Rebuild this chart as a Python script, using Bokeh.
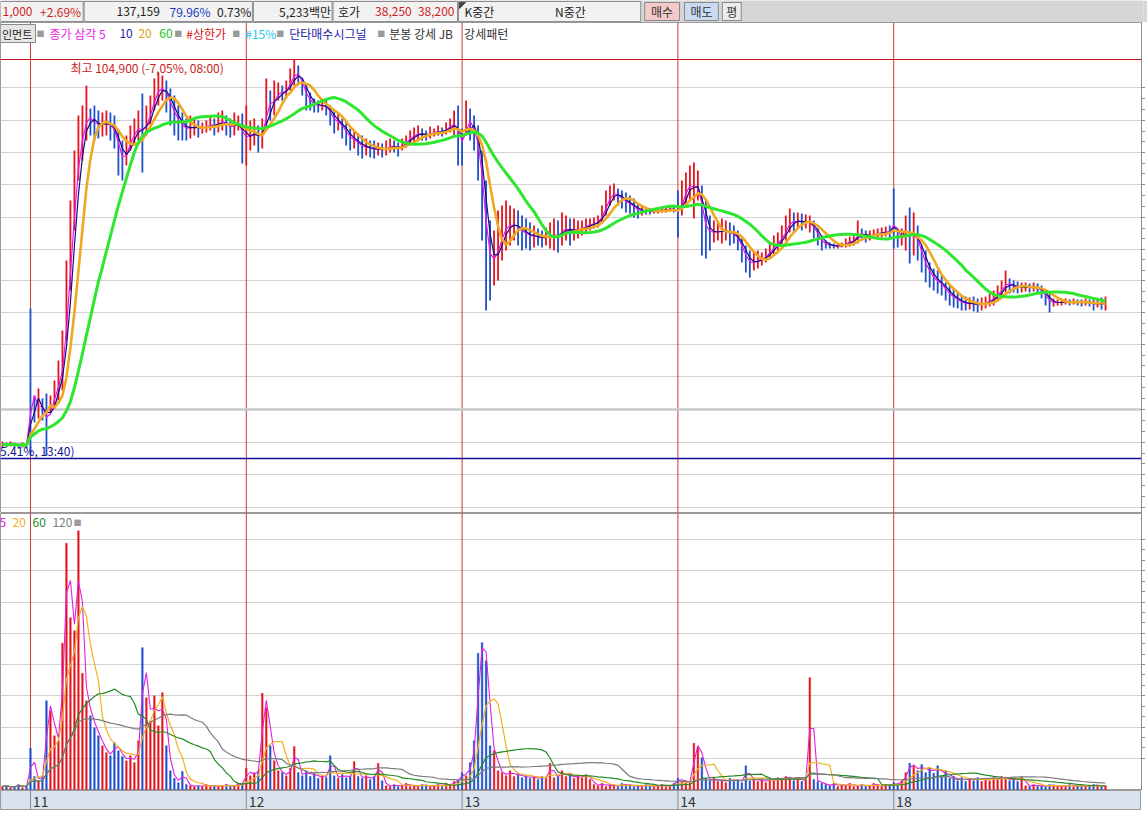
import numpy as np
import pandas as pd
from bokeh.plotting import figure
from bokeh.layouts import column
from bokeh.models import Range1d, Span, FixedTicker, Label, ColumnDataSource
from bokeh.core.properties import value
from bokeh.embed import file_html
from bokeh.resources import INLINE

FONT = "Noto Sans CJK KR"

# ------------------------------------------------------------------ data
# minute chart resampled: one sample ~ 3.3 original bars (price in thousand won)
day_labels = ["11", "12", "13", "14", "18"]
day_start = [7, 61, 115, 169, 223]          # sample index where each session opens

price_high = [
    66.7, 66.6, 66.7, 66.6, 66.5, 66.6, 66.5, 80.0, 71.3, 72.0,
    71.0, 71.5, 71.3, 72.8, 74.8, 77.8, 84.8, 90.8, 95.8, 99.3,
    100.3, 102.3, 100.0, 100.3, 99.8, 99.6, 99.8, 99.6, 99.3, 97.8,
    96.8, 97.3, 98.3, 99.0, 99.8, 101.5, 100.3, 101.3, 103.0, 103.6,
    103.3, 102.8, 102.0, 101.3, 100.3, 99.6, 99.0, 99.3, 99.1, 98.8,
    98.6, 98.8, 99.2, 99.0, 99.6, 99.8, 99.3, 99.0, 99.6, 99.3,
    99.5, 100.3, 98.8, 99.0, 98.3, 99.0, 103.0, 101.8, 102.8, 102.6,
    102.3, 102.8, 104.0, 104.9, 104.3, 103.0, 102.3, 101.6, 101.0, 100.8,
    101.0, 100.8, 100.3, 99.8, 99.6, 99.0, 98.6, 98.0, 97.8, 97.5,
    97.3, 97.0, 96.8, 96.8, 96.6, 96.5, 96.8, 97.0, 96.8, 96.6,
    97.0, 97.3, 97.8, 98.1, 98.3, 98.0, 97.8, 98.2, 98.0, 98.3,
    98.1, 98.6, 99.0, 99.8, 100.3, 98.0, 100.8, 100.0, 99.3, 98.3,
    95.8, 92.8, 88.8, 87.8, 89.8, 90.3, 90.8, 90.3, 90.0, 89.8,
    89.3, 89.0, 88.6, 88.3, 88.0, 87.8, 88.1, 88.6, 89.0, 88.8,
    89.6, 89.3, 89.0, 89.0, 88.8, 88.8, 89.0, 89.0, 89.1, 89.3,
    90.3, 91.8, 92.3, 92.5, 92.0, 91.8, 91.6, 91.3, 91.0, 90.5,
    90.3, 90.0, 89.9, 90.0, 90.0, 90.1, 90.2, 90.2, 90.3, 91.8,
    92.8, 93.6, 94.3, 94.6, 93.8, 92.3, 90.8, 89.3, 88.8, 88.6,
    89.0, 88.8, 88.6, 88.3, 87.8, 87.0, 86.3, 85.8, 85.6, 85.8,
    85.6, 86.0, 86.6, 87.3, 87.6, 88.3, 89.3, 90.0, 89.6, 89.6,
    89.5, 89.4, 89.3, 88.8, 88.0, 87.3, 86.8, 86.6, 86.5, 86.5,
    86.6, 87.0, 87.2, 87.3, 88.8, 88.0, 87.8, 87.8, 87.9, 88.0,
    88.1, 88.2, 88.3, 92.0, 87.8, 88.0, 89.3, 90.1, 89.6, 88.3,
    86.3, 85.8, 84.6, 84.0, 83.8, 83.3, 82.6, 82.3, 82.0, 81.6,
    81.3, 81.2, 81.1, 81.2, 81.0, 81.1, 81.2, 81.5, 81.8, 82.3,
    82.8, 83.8, 83.0, 82.8, 82.7, 82.6, 82.6, 82.5, 82.6, 82.5,
    82.3, 81.8, 81.6, 81.0, 80.9, 81.0, 81.0, 80.9, 81.0, 80.9,
    80.9, 81.0, 80.9, 80.9, 81.0, 81.1, 81.2,
]
price_low = [
    66.1, 66.1, 66.2, 66.1, 66.0, 66.1, 66.0, 65.3, 68.6, 69.0,
    68.8, 65.3, 69.6, 70.0, 70.8, 71.8, 76.8, 81.8, 87.8, 92.8,
    94.8, 96.8, 97.3, 96.8, 97.0, 97.2, 97.3, 96.8, 96.0, 93.3,
    92.8, 94.3, 95.8, 96.3, 96.8, 93.6, 97.3, 98.3, 99.8, 100.3,
    100.8, 99.6, 98.3, 97.3, 96.8, 96.8, 96.8, 97.0, 97.3, 97.1,
    97.5, 97.6, 97.8, 97.3, 97.6, 97.8, 97.3, 97.1, 97.3, 97.8,
    94.5, 94.3, 95.8, 96.3, 95.6, 96.0, 98.3, 98.8, 99.3, 100.8,
    100.8, 101.0, 101.8, 102.3, 102.3, 101.3, 99.8, 99.8, 99.6, 99.6,
    99.8, 99.3, 98.3, 97.5, 97.8, 97.0, 96.3, 95.8, 96.0, 95.3,
    95.0, 95.3, 95.1, 95.0, 95.3, 95.1, 95.3, 95.6, 95.6, 95.2,
    95.8, 96.1, 96.5, 96.6, 96.8, 96.8, 96.8, 97.0, 97.2, 97.3,
    97.2, 97.4, 97.6, 97.3, 94.3, 94.3, 97.3, 96.8, 95.8, 92.8,
    86.8, 79.8, 80.8, 82.3, 82.8, 84.8, 85.8, 86.3, 86.8, 86.3,
    85.8, 86.0, 85.8, 86.1, 86.3, 86.1, 86.3, 86.0, 85.8, 85.6,
    86.3, 86.8, 86.3, 86.8, 87.0, 87.3, 87.6, 87.8, 88.0, 88.1,
    88.6, 89.3, 90.3, 90.8, 90.3, 90.0, 89.6, 89.5, 89.1, 89.0,
    89.3, 89.4, 89.4, 89.5, 89.5, 89.6, 89.6, 89.7, 89.6, 87.1,
    89.3, 90.3, 90.8, 89.0, 90.8, 85.3, 85.0, 85.8, 86.6, 86.8,
    86.5, 86.8, 86.3, 86.5, 85.8, 84.6, 83.6, 83.1, 83.8, 84.0,
    84.3, 84.6, 85.0, 85.3, 85.8, 86.0, 86.8, 87.6, 87.6, 88.0,
    87.8, 88.0, 87.6, 87.0, 86.3, 85.8, 86.0, 86.0, 86.0, 86.0,
    86.1, 86.1, 86.2, 86.3, 86.5, 86.8, 86.6, 86.8, 87.0, 87.1,
    87.1, 87.2, 87.0, 86.0, 86.1, 86.3, 85.8, 84.5, 85.3, 84.8,
    83.6, 82.6, 82.1, 81.8, 81.5, 81.3, 80.8, 80.3, 80.1, 80.0,
    79.8, 79.8, 79.9, 79.7, 79.6, 79.8, 80.0, 80.2, 80.3, 80.8,
    81.1, 81.6, 81.5, 81.6, 81.5, 81.6, 81.7, 81.6, 81.7, 81.5,
    81.0, 80.3, 79.6, 80.2, 80.3, 80.3, 80.4, 80.3, 80.4, 80.3,
    80.2, 80.3, 80.2, 79.8, 80.1, 79.9, 79.8,
]
# volume, thousand shares
volume = [
    5, 6, 3, 5, 8, 3, 5, 66, 21, 14,
    22, 142, 126, 86, 78, 234, 394, 275, 254, 414,
    186, 142, 118, 99, 86, 70, 59, 54, 75, 62,
    53, 46, 54, 43, 78, 227, 147, 110, 150, 102,
    155, 70, 30, 18, 11, 29, 8, 6, 5, 6,
    5, 8, 5, 6, 5, 6, 8, 5, 6, 10,
    8, 34, 22, 27, 30, 154, 131, 70, 46, 30,
    27, 22, 34, 69, 27, 22, 30, 21, 26, 18,
    22, 19, 54, 22, 18, 24, 19, 22, 45, 21,
    18, 22, 16, 21, 42, 14, 6, 5, 8, 5,
    6, 10, 5, 6, 5, 8, 6, 5, 6, 8,
    5, 10, 6, 13, 16, 27, 22, 43, 78, 218,
    235, 206, 70, 62, 30, 27, 22, 30, 21, 26,
    19, 22, 18, 21, 16, 21, 18, 42, 19, 22,
    30, 21, 24, 18, 22, 19, 24, 16, 8, 6,
    10, 5, 8, 6, 5, 10, 6, 8, 5, 6,
    5, 8, 6, 5, 6, 8, 5, 6, 10, 18,
    13, 14, 11, 74, 67, 51, 18, 14, 19, 13,
    16, 11, 18, 13, 16, 11, 38, 14, 18, 13,
    16, 11, 18, 14, 19, 16, 21, 18, 14, 19,
    13, 16, 179, 16, 13, 10, 8, 6, 10, 5,
    8, 6, 10, 5, 6, 8, 5, 6, 10, 6,
    5, 8, 6, 11, 8, 14, 27, 42, 37, 30,
    40, 27, 35, 26, 38, 22, 30, 18, 21, 14,
    19, 13, 18, 14, 19, 13, 18, 14, 19, 16,
    21, 18, 14, 18, 13, 21, 6, 5, 8, 5,
    6, 5, 8, 6, 5, 6, 5, 8, 5, 6,
    5, 6, 5, 8, 6, 5, 6,
]
assert len(price_high) == len(price_low) == len(volume)

down_candles = [7, 223]
up_candles = [173, 202]

price_grid = [60.1, 63.4, 66.6, 69.9, 73.2, 76.4, 79.6, 82.8, 85.9, 89.1,
              92.4, 95.6, 98.8, 102.1]
prev_close_line = 69.9
volume_grid = [50, 100, 150, 200, 250, 300, 350, 400]

session_high = 104.9
session_low = 65.0
high_label = "최고 104,900 (-7,05%, 08:00)"
low_label = "최저 65,000 (-35.41%, 13:40)"

# moving-average windows in samples (legend labels are in original bars)
price_ma = [("5", 2, "#f010f0", 1.2), ("10", 3, "#10107e", 1.2),
            ("20", 6, "#f0a820", 2.6), ("60", 18, "#2ee62e", 3.0)]
volume_ma = [("5", 2, "#e020e0", 1.1), ("20", 6, "#f0b020", 1.2),
             ("60", 18, "#238c23", 1.2), ("120", 36, "#7c7c7c", 1.2)]

UP, DOWN = "#e6141e", "#1f4fcc"

# ------------------------------------------------------------------ derived
n = len(price_high)
idx = np.arange(n)
hi = np.array(price_high)
lo = np.array(price_low)
mid = (hi + lo) / 2
up = np.r_[True, mid[1:] >= mid[:-1]]
up[down_candles] = False
up[up_candles] = True
colors = np.where(up, UP, DOWN)
src = ColumnDataSource(dict(x=idx, hi=hi, lo=lo, v=np.array(volume), c=colors))

FW = 1141
XR = Range1d(-0.5, 285)


def ax(px):      # reference pixel x -> sample index (annotation placement)
    return (px - 2) / 4.0


def ay(py):      # reference pixel y -> price axis (annotation placement)
    return 110.8 - py / 10.0


def vy(py):      # reference pixel y -> volume axis (annotation placement)
    return (789 - py) * 1.6


def dashes(t, k=3):
    out = []
    for a, b in zip(t[:-1], t[1:]):
        out += [a + (b - a) * j / k for j in range(k)]
    return out + [t[-1]]


def panel(height, yr, ticks, bg="white", separators=True):
    f = figure(frame_width=FW, height=height, x_range=XR, y_range=yr,
               output_backend="svg", toolbar_location=None,
               x_axis_location=None, y_axis_location="right", min_border=0)
    f.background_fill_color = bg
    f.border_fill_color = bg
    f.outline_line_color = "#9a9a9a"
    a = f.yaxis[0]
    # only minor dashes on the (cropped) right scale, no labels
    a.ticker = FixedTicker(ticks=[], minor_ticks=dashes(ticks) if ticks else [])
    a.major_label_standoff = 0
    a.major_tick_out = 4
    a.major_tick_in = 0
    a.minor_tick_out = 4
    a.minor_tick_in = 0
    a.axis_line_color = "#8c8c8c"
    a.minor_tick_line_color = "#8c8c8c"
    f.xgrid.visible = False
    f.ygrid.ticker = FixedTicker(ticks=ticks)
    f.ygrid.grid_line_color = "#d2d2d2"
    f.ygrid.grid_line_width = 1
    if separators:
        for d in day_start:
            f.add_layout(Span(location=d, dimension="height", line_color="#c43a3a",
                              line_width=1, level="underlay"))
    return f


def txt(f, x, y, s, color, size="12px", align="left"):
    f.text(x=[x], y=[y], text=[s], text_color=color, text_font=value(FONT),
           text_font_size=size, text_align=align, text_baseline="middle")


# ------------------------------------------------------------------ header
hdr = figure(width=FW + 6, height=22, x_range=Range1d(0, 1148), y_range=Range1d(22, 0),
             output_backend="svg", toolbar_location=None,
             x_axis_location=None, y_axis_location=None, min_border=0)
hdr.grid.visible = False
hdr.outline_line_color = None
hdr.background_fill_color = "#d6d6d6"
hdr.border_fill_color = "#d6d6d6"
hdr.quad(left=[0, 84, 254, 334, 460], right=[83, 253, 333, 459, 643],
         top=[1] * 5, bottom=[21] * 5, fill_color="#f2f2f2", line_color="#8e8e8e")
hdr.quad(left=[647, 687, 725], right=[682, 721, 744], top=[2] * 3, bottom=[20] * 3,
         fill_color=["#f4c9c9", "#c9dbf3", "#ececec"], line_color="#8a8a8a")
hdr.patch([461, 467, 461], [2, 2, 8], color="#444444")
status_left = [(2, "1,000", "#d01e1e"), (339, "호가", "#222222"),
               (466, "K중간", "#222222"), (557, "N중간", "#222222")]
status_right = [(81, "+2.69%", "#d01e1e"), (160, "137,159", "#222222"),
                (211, "79.96%", "#1a3cc0"), (252, "0.73%", "#222222"),
                (332, "5,233백만", "#222222"), (413, "38,250", "#d01e1e"),
                (456, "38,200", "#d01e1e")]
for x, s, c in status_left:
    txt(hdr, x, 11, s, c, "12px")
for x, s, c in status_right:
    txt(hdr, x, 11, s, c, "12px", "right")
for x, s in [(664.5, "매수"), (704, "매도"), (734.5, "평")]:
    txt(hdr, x, 11, s, "#333333", "12px", "center")

# ------------------------------------------------------------------ price panel
pp = panel(491, Range1d(59.5, 108.6), price_grid)
pp.add_layout(Span(location=prev_close_line, dimension="width", line_color="#c9c9c9",
                   line_width=2.5, level="underlay"))
pp.add_layout(Span(location=session_high, dimension="width", line_color="#c81414", line_width=1.2))
pp.add_layout(Span(location=session_low, dimension="width", line_color="#12129a", line_width=1.5))

pp.segment(x0="x", y0="lo", x1="x", y1="hi", line_color="c", line_width=1.8, source=src)
for name, w, col, lw in price_ma:
    m = pd.Series(mid).rolling(w, min_periods=1).mean().values
    pp.line(idx, m, line_color=col, line_width=lw)

# legend row
pp.quad(left=[-0.5], right=[ax(35)], top=[ay(24)], bottom=[ay(42)],
        fill_color="#e6e6e6", line_color="#8a8a8a")
txt(pp, ax(1.5), ay(33), "인먼트", "#222222", "11px")
for xs in (40, 178, 236, 280, 381):
    txt(pp, ax(xs), ay(33), "■", "#9a9a9a", "8px", "center")
legend_items = [(49, "종가 삼각 5", "#e81ce8"), (119, "10", "#1c1ca8"), (138, "20", "#e0a010"),
                (159, "60", "#22c022"), (186, "#상한가", "#e01010"), (245, "#15%", "#22c8e8"),
                (289, "단타매수시그널", "#1a1aa8"), (389, "분봉 강세 JB", "#333333"),
                (464, "강세패턴", "#333333")]
for x, s, c in legend_items:
    txt(pp, ax(x), ay(33), s, c, "12px")
txt(pp, ax(70), ay(67), high_label, "#c81e1e", "12px")
txt(pp, ax(74), ay(450), low_label, "#14148c", "12px", "right")
pp.add_layout(Label(x=ax(1143), y=ay(31), text="L", text_color="#d02020",
                    text_font=FONT, text_font_size="12px", text_baseline="middle"))
pp.add_layout(Label(x=ax(1143), y=ay(43), text="H", text_color="#1a4ac8",
                    text_font=FONT, text_font_size="12px", text_baseline="middle"))

# ------------------------------------------------------------------ volume panel
vp = panel(277, Range1d(-1.6, 441.6), volume_grid)
vp.vbar(x="x", top="v", bottom=0, width=0.42, fill_color="c", line_color="c",
        line_width=0.4, source=src)
vol = pd.Series(volume, dtype=float)
for name, w, col, lw in volume_ma:
    vp.line(idx, vol.rolling(w, min_periods=1).mean().values, line_color=col, line_width=lw)
for x, (s, c) in zip([-1, 12, 32, 52], [(m[0], m[2]) for m in volume_ma]):
    txt(vp, ax(x), vy(522), s, c, "12px")
txt(vp, ax(77), vy(522), "■", "#9a9a9a", "8px", "center")

# ------------------------------------------------------------------ date band
band = panel(20, Range1d(0, 1), [], bg="#dae2ee", separators=False)
for d, lab in zip(day_start, day_labels):
    band.add_layout(Span(location=d, dimension="height", line_color="#8a8a8a", line_width=1))
    txt(band, d + 0.6, 0.45, lab, "#333333", "14px")

# ------------------------------------------------------------------ bottom strip
strip = figure(width=FW + 6, height=5, x_range=Range1d(0, 1148), y_range=Range1d(0, 1),
               output_backend="svg", toolbar_location=None,
               x_axis_location=None, y_axis_location=None, min_border=0)
strip.grid.visible = False
strip.outline_line_color = None
strip.background_fill_color = "#ebebeb"
strip.border_fill_color = "#ebebeb"
strip.quad(left=[838, 856, 876, 896], right=[852, 872, 892, 912], top=[1.2] * 4,
           bottom=[-0.2] * 4, fill_color="#f6f6f6", line_color="#8a8a8a")

layout = column(hdr, pp, vp, band, strip, spacing=0)
open("out.html", "w").write(file_html(layout, INLINE))
